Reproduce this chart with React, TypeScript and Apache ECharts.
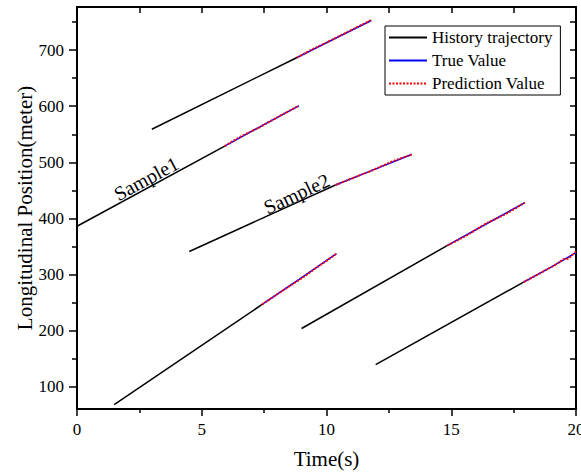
import React, { useEffect, useRef } from "react";
import * as echarts from "echarts";

const FONT = "'Liberation Serif', 'Times New Roman', serif";

// x axis (s)
const xMin = 0;
const xMax = 20;
// y axis (meter)
const yMin = 60;
const yMax = 777;
const yMajorTicks = [100, 200, 300, 400, 500, 600, 700];
const yMinorTicks = [150, 250, 350, 450, 550, 650, 750];
const yRightTicks = [100, 150, 200, 250, 300, 350, 400, 450, 500, 550, 600, 650, 700, 750];

const seriesNames = ["History trajectory", "True Value", "Prediction Value"];

// History trajectories (black)
const historyTrajectories: number[][][] = [
  [[3.0, 559], [8.82, 687]],
  [[0, 386], [5.92, 529]],
  [[4.5, 341], [10.36, 459.5]],
  [[1.49, 68], [7.42, 246.4]],
  [[9.0, 203.6], [14.85, 351.8]],
  [[11.97, 139.3], [17.9, 286.3]],
];

// True values (blue)
const trueValues: number[][][] = [
  [[8.82, 687], [10.3, 720], [11.8, 753]],
  [[5.92, 529], [7.4, 565], [8.89, 600.5]],
  [[10.36, 459.5], [11.9, 487], [13.41, 514]],
  [[7.42, 246.4], [8.9, 291], [10.4, 337]],
  [[14.85, 351.8], [16.4, 390], [17.95, 428]],
  [[17.9, 286.3], [19.0, 313], [20, 339]],
];

// Prediction values (red dotted)
const predictionValues: number[][][] = [
  [[8.82, 687], [9.5, 703], [10.2, 718], [11.0, 736], [11.8, 754]],
  [[5.92, 529], [6.6, 547], [7.3, 562], [8.1, 582], [8.89, 601]],
  [[10.36, 459.5], [11.0, 471], [11.8, 485], [12.6, 501], [13.41, 514]],
  [[7.42, 246.4], [8.1, 267], [8.9, 290], [9.7, 315], [10.4, 337]],
  [[14.85, 351.8], [15.6, 369], [16.4, 391], [17.2, 408], [17.95, 428]],
  [[17.9, 286.3], [18.6, 303], [19.2, 318], [19.5, 327], [19.7, 328], [20, 341]],
];

// Annotations: [x, y] in data units
const annotations = [
  { text: "Sample1", pos: [2.77, 471], angle: 28.5 },
  { text: "Sample2", pos: [8.8, 444], angle: 25 },
];

export default function App() {
  const ref = useRef<HTMLDivElement>(null);

  useEffect(() => {
    if (!ref.current) return;
    const chart = echarts.init(ref.current, null, { renderer: "svg" });

    const series: any[] = [];
    historyTrajectories.forEach((d) =>
      series.push({
        name: seriesNames[0],
        type: "line",
        data: d,
        symbol: "none",
        lineStyle: { color: "#000", width: 1.5 },
        itemStyle: { color: "#000" },
        z: 2,
      })
    );
    trueValues.forEach((d) =>
      series.push({
        name: seriesNames[1],
        type: "line",
        data: d,
        symbol: "none",
        lineStyle: { color: "#0000ff", width: 1.5 },
        itemStyle: { color: "#0000ff" },
        z: 3,
      })
    );
    predictionValues.forEach((d) =>
      series.push({
        name: seriesNames[2],
        type: "line",
        data: d,
        symbol: "none",
        lineStyle: { color: "#ff0000", width: 2, type: [2, 1.5] },
        itemStyle: { color: "#ff0000" },
        z: 4,
      })
    );

    const axisLine = { show: true, onZero: false, lineStyle: { color: "#000", width: 2 } };

    chart.setOption({
      animation: false,
      backgroundColor: "#fff",
      textStyle: { fontFamily: FONT },
      grid: {
        left: 77,
        right: 5,
        top: 7,
        bottom: 63,
        containLabel: false,
        outerBoundsMode: "none",
      },
      legend: {
        data: seriesNames,
        orient: "vertical",
        left: 385,
        top: 26,
        itemWidth: 38,
        itemHeight: 14,
        itemGap: 6,
        padding: [3, 8, 3, 3],
        backgroundColor: "#fff",
        borderColor: "#000",
        borderWidth: 1,
        borderRadius: 0,
        itemStyle: { opacity: 0 },
        textStyle: { fontFamily: FONT, fontSize: 17, color: "#000", lineHeight: 17 },
      },
      xAxis: [
        {
          type: "value",
          position: "bottom",
          min: xMin,
          max: xMax,
          interval: 5,
          axisLine,
          axisTick: { show: true, inside: false, length: 7, lineStyle: { color: "#000", width: 1.5 } },
          minorTick: { show: true, splitNumber: 2, length: 4, lineStyle: { color: "#000", width: 1.5 } },
          axisLabel: { fontFamily: FONT, fontSize: 17, color: "#000", margin: 12 },
          splitLine: { show: false },
          name: "Time(s)",
          nameLocation: "middle",
          nameGap: 39,
          nameMoveOverlap: false,
          nameTextStyle: { fontFamily: FONT, fontSize: 21, color: "#000" },
        },
        {
          type: "value",
          position: "top",
          min: xMin,
          max: xMax,
          interval: 2.5,
          axisLine,
          axisTick: { show: true, inside: true, length: 6, lineStyle: { color: "#000", width: 1.5 } },
          axisLabel: { show: false },
          splitLine: { show: false },
        },
      ],
      yAxis: [
        {
          type: "value",
          position: "left",
          min: yMin,
          max: yMax,
          axisLine,
          axisTick: {
            show: true,
            inside: false,
            length: 8,
            customValues: yMajorTicks,
            lineStyle: { color: "#000", width: 1.5 },
          },
          axisLabel: {
            fontFamily: FONT,
            fontSize: 17,
            color: "#000",
            margin: 13,
            customValues: yMajorTicks,
          },
          splitLine: { show: false },
          name: "Longitudinal Position(meter)",
          nameLocation: "middle",
          nameGap: 42,
          nameMoveOverlap: false,
          nameTextStyle: { fontFamily: FONT, fontSize: 21, color: "#000" },
        },
        {
          type: "value",
          position: "left",
          min: yMin,
          max: yMax,
          axisLine: { show: false },
          axisTick: {
            show: true,
            inside: false,
            length: 5,
            customValues: yMinorTicks,
            lineStyle: { color: "#000", width: 1.5 },
          },
          axisLabel: { show: false },
          splitLine: { show: false },
        },
        {
          type: "value",
          position: "right",
          min: yMin,
          max: yMax,
          axisLine,
          axisTick: {
            show: true,
            inside: true,
            length: 6,
            customValues: yRightTicks,
            lineStyle: { color: "#000", width: 1.5 },
          },
          axisLabel: { show: false },
          splitLine: { show: false },
        },
      ],
      series,
    });

    const graphics = annotations.map((a) => {
      const p = chart.convertToPixel({ xAxisIndex: 0, yAxisIndex: 0 }, a.pos) as number[];
      return {
        type: "text",
        x: p[0],
        y: p[1],
        rotation: (a.angle * Math.PI) / 180,
        z: 10,
        style: {
          text: a.text,
          font: `20px ${FONT}`,
          fill: "#000",
          textAlign: "center",
          textVerticalAlign: "middle",
        },
      };
    });
    chart.setOption({ graphic: graphics });

    return () => chart.dispose();
  }, []);

  return (
    <div
      ref={ref}
      style={{ position: "fixed", left: 0, top: 0, width: 581, height: 472 }}
    />
  );
}
